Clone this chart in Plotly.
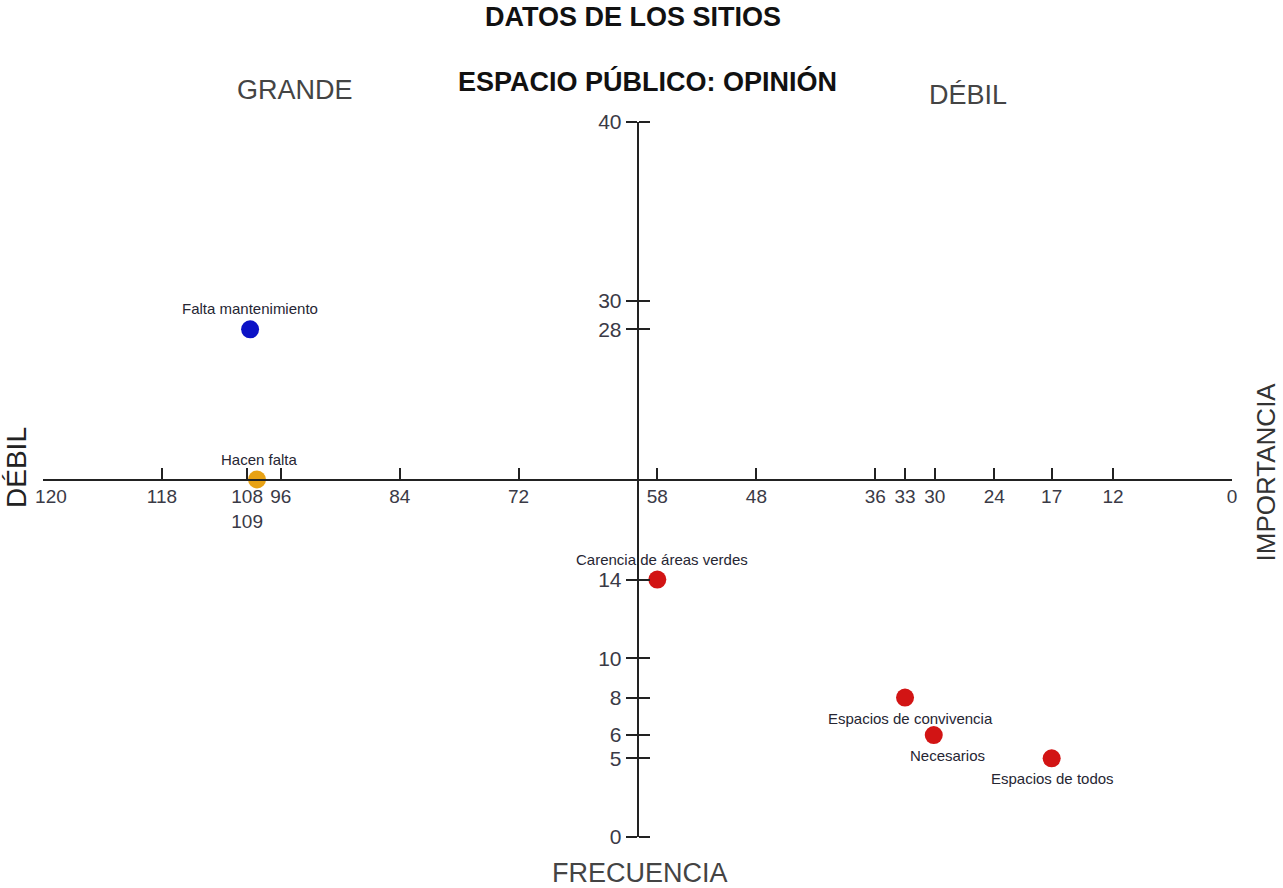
import plotly.graph_objects as go

# Horizontal axis: position on the reversed 120 -> 0 scale and the label printed there
x_tick_pos = [120, 108, 99.4, 96, 84, 72, 58, 48, 36, 33, 30, 24, 18.2, 12, 0]
x_tick_text = ["\u00a0\u00a0\u00a0120", "118", "108<br>109", "96", "84", "72", "58", "48",
               "36", "33", "30", "24", "17", "12", "0"]

# Vertical axis ticks
y_tick_pos = [40, 30, 28.4, 14.4, 10, 7.8, 5.7, 4.4, 0]
y_tick_text = ["40", "30", "28", "14", "10", "8", "6", "5", "0"]

# Opinion items
names = ["Falta mantenimiento", "Hacen falta", "Carencia de áreas verdes",
         "Espacios de convivencia", "Necesarios", "Espacios de todos"]
x_vals = [99.1, 98.4, 58.0, 33.0, 30.1, 18.2]
y_vals = [28.4, 20.0, 14.4, 7.8, 5.7, 4.4]
colors = ["#0c12c6", "#e8a214", "#d21414", "#d21414", "#d21414", "#d21414"]
label_above = [True, True, True, False, False, False]
label_dx = [0, 2, 5, 5, 14, 1]

FONT = "Liberation Sans, Arial, sans-serif"
AXIS_COL = "#222222"
TICK_FONT_COL = "#3a3a46"

fig = go.Figure()
fig.add_trace(go.Scatter(
    x=x_vals, y=y_vals, mode="markers",
    marker=dict(size=18, color=colors, line=dict(width=0)),
    text=names, hoverinfo="text", showlegend=False,
))
# invisible companion trace so the right-facing tick axis gets drawn
fig.add_trace(go.Scatter(x=[60], y=[20], yaxis="y2", mode="markers",
                         marker=dict(opacity=0), hoverinfo="skip",
                         showlegend=False))

for name, x, y, above, dx in zip(names, x_vals, y_vals, label_above, label_dx):
    fig.add_annotation(
        x=x, y=y, text=name, showarrow=False,
        xanchor="center", yanchor="bottom" if above else "top",
        yshift=10 if above else -10, xshift=dx,
        font=dict(family=FONT, size=15, color="#262633"),
    )

fig.update_layout(
    width=1283, height=888,
    margin=dict(l=43, r=51, t=122, b=51),
    paper_bgcolor="white", plot_bgcolor="white",
    font=dict(family=FONT),
    xaxis=dict(
        range=[120, 0], showgrid=False, zeroline=False,
        showline=True, linecolor=AXIS_COL, linewidth=1.5,
        anchor="free", position=0.5,
        tickmode="array", tickvals=x_tick_pos, ticktext=x_tick_text,
        ticks="inside", ticklen=11, tickwidth=1.5, tickcolor=AXIS_COL,
        tickfont=dict(family=FONT, size=19, color=TICK_FONT_COL),
    ),
    yaxis=dict(
        range=[0, 40], domain=[0, 1], showgrid=False, zeroline=False,
        showline=True, linecolor=AXIS_COL, linewidth=1.5,
        anchor="free", position=0.5,
        tickmode="array", tickvals=y_tick_pos, ticktext=y_tick_text,
        ticks="outside", ticklen=11, tickwidth=1.5, tickcolor=AXIS_COL,
        tickfont=dict(family=FONT, size=21, color=TICK_FONT_COL),
    ),
    yaxis2=dict(
        range=[0, 40], overlaying="y", side="right",
        anchor="free", position=0.5,
        showgrid=False, zeroline=False, showline=False,
        tickmode="array", tickvals=y_tick_pos, showticklabels=False,
        ticks="outside", ticklen=11, tickwidth=1.5, tickcolor=AXIS_COL,
    ),
)

def note(text, x, y, size, bold=False, color="#444444", angle=0):
    fig.add_annotation(
        text=f"<b>{text}</b>" if bold else text,
        xref="paper", yref="paper", x=x, y=y,
        xanchor="center", yanchor="middle", showarrow=False,
        textangle=angle, font=dict(family=FONT, size=size, color=color),
    )

note("DATOS DE LOS SITIOS", 0.4962, 1.1469, 27, bold=True, color="#111111")
note("ESPACIO PÚBLICO: OPINIÓN", 0.508, 1.0573, 27, bold=True, color="#111111")
note("GRANDE", 0.212, 1.0448, 27)
note("DÉBIL", 0.778, 1.0378, 27)
note("DÉBIL", -0.0219, 0.5175, 28, color="#222222", angle=-90)
note("IMPORTANCIA", 1.029, 0.5105, 26, color="#333333", angle=-90)
note("FRECUENCIA", 0.502, -0.0503, 27)

fig.write_html("out.html")
